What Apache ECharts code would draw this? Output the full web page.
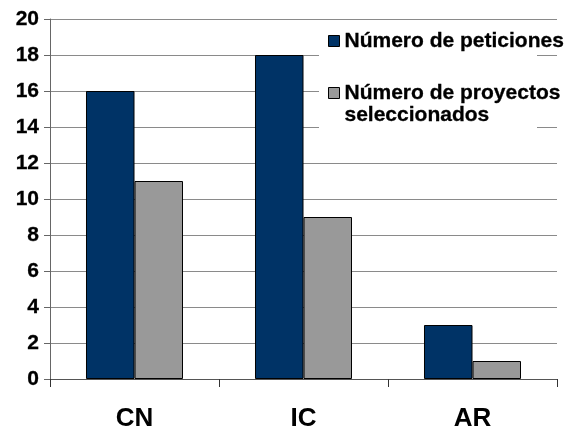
<!DOCTYPE html>
<html>
<head>
<meta charset="utf-8">
<script src="https://cdn.jsdelivr.net/npm/echarts@6/dist/echarts.min.js"></script>
<style>
html,body{margin:0;padding:0;background:#fff;}
#chart{width:581px;height:432px;}
</style>
</head>
<body>
<div id="chart"></div>
<script>
const categories = ['CN', 'IC', 'AR'];
const seriesNames = ['Número de peticiones', 'Número de proyectos seleccionados'];
const peticiones = [16, 18, 3];
const proyectos = [11, 9, 1];
const yTicks = { min: 0, max: 20, interval: 2 };

const chart = echarts.init(document.getElementById('chart'), null, { renderer: 'canvas' });
const FONT = '"Liberation Sans", Arial, sans-serif';

chart.setOption({
  animation: false,
  backgroundColor: '#ffffff',
  grid: { left: 50, right: 24, top: 19, height: 361, containLabel: false },
  graphic: [
    { type: 'rect', z: 1, silent: true, shape: { x: 319, y: 28, width: 218, height: 106 }, style: { fill: '#ffffff' } },
    { type: 'rect', z: 1, silent: true, shape: { x: 537, y: 84, width: 22, height: 16 }, style: { fill: '#ffffff' } }
  ],
  legend: {
    orient: 'vertical',
    left: 328,
    top: 30,
    padding: 0,
    itemGap: 8,
    itemWidth: 11,
    itemHeight: 11,
    icon: 'rect',
    z: 5,
    data: seriesNames,
    formatter: function (name) {
      return name === seriesNames[1] ? '\nNúmero de proyectos\nseleccionados' : name;
    },
    textStyle: { fontFamily: FONT, fontWeight: 'bold', fontSize: 21, lineHeight: 22, color: '#000000', textBorderColor: '#000000', textBorderWidth: 0.3 },
    itemStyle: { borderColor: '#000000', borderWidth: 1 }
  },
  xAxis: {
    type: 'category',
    data: categories,
    boundaryGap: true,
    axisLine: { show: true, lineStyle: { color: '#555555', width: 1 } },
    axisTick: { show: true, length: 8, lineStyle: { color: '#333333' } },
    axisLabel: { fontFamily: FONT, fontWeight: 'bold', fontSize: 26, color: '#000000', margin: 27 },
    splitLine: { show: false }
  },
  yAxis: {
    type: 'value',
    min: yTicks.min,
    max: yTicks.max,
    interval: yTicks.interval,
    axisLine: { show: true, lineStyle: { color: '#666666', width: 1 } },
    axisTick: { show: true, length: 6, lineStyle: { color: '#666666' } },
    axisLabel: { fontFamily: FONT, fontWeight: 'bold', fontSize: 21, color: '#000000', margin: 11, textBorderColor: '#000000', textBorderWidth: 0.3 },
    splitLine: { show: true, lineStyle: { color: '#8a8a8a', width: 1 } }
  },
  series: [
    {
      name: seriesNames[0],
      type: 'bar',
      data: peticiones,
      barGap: '0%',
      barCategoryGap: '42.6%',
      itemStyle: { color: '#003366', borderColor: '#000000', borderWidth: 1 }
    },
    {
      name: seriesNames[1],
      type: 'bar',
      data: proyectos,
      barGap: '0%',
      barCategoryGap: '42.6%',
      itemStyle: { color: '#999999', borderColor: '#000000', borderWidth: 1 }
    }
  ]
});
</script>
</body>
</html>
